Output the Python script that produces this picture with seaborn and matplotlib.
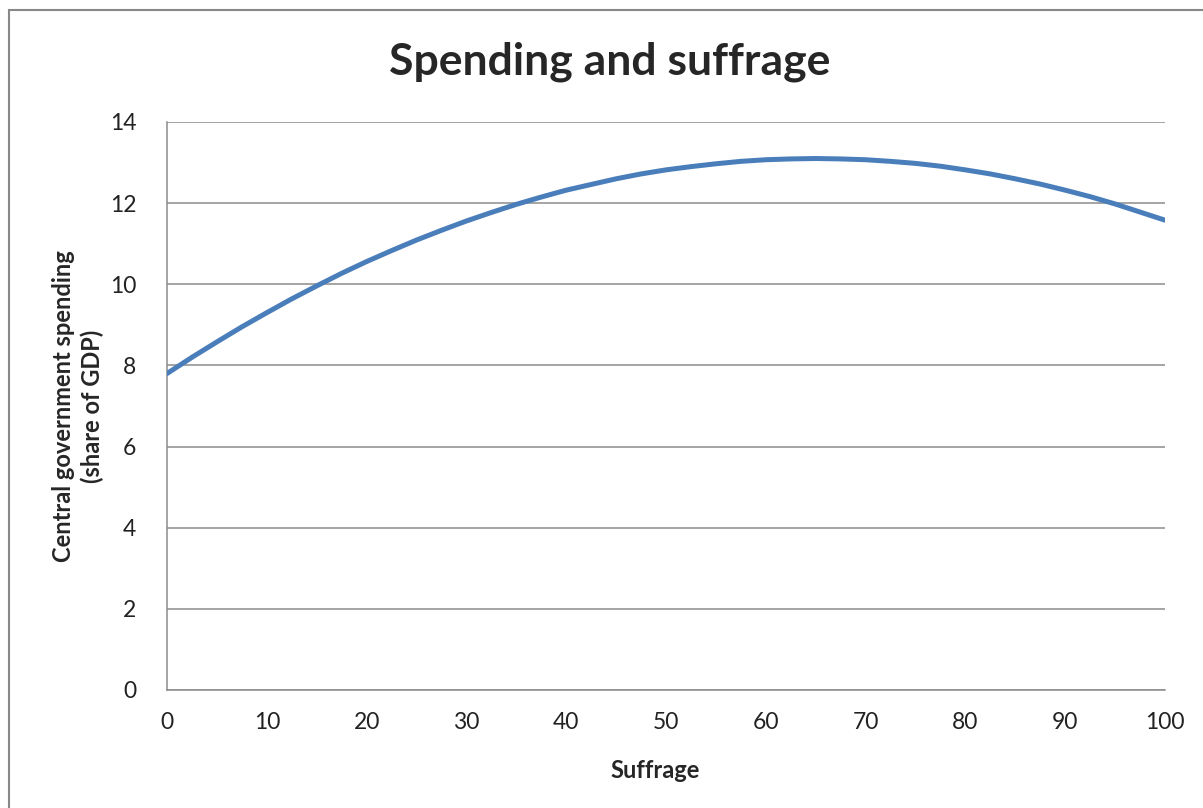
import numpy as np
import pandas as pd
import matplotlib
matplotlib.use('Agg')
import matplotlib.pyplot as plt
import matplotlib.patches as mpatches
import seaborn as sns

# Curve values
suffrage = [0, 2.5, 5, 7.5, 10, 12.5, 15, 17.5, 20, 22.5, 25, 27.5, 30, 32.5, 35, 37.5, 40, 42.5, 45,
            47.5, 50, 52.5, 55, 57.5, 60, 62.5, 65, 67.5, 70, 72.5, 75, 77.5, 80, 82.5, 85, 87.5, 90,
            92.5, 95, 97.5, 100]
spending = [7.80, 8.20, 8.58, 8.95, 9.30, 9.64, 9.96, 10.27, 10.56, 10.83, 11.09, 11.33, 11.56, 11.77,
            11.97, 12.15, 12.32, 12.46, 12.60, 12.72, 12.82, 12.90, 12.97, 13.03, 13.07, 13.09, 13.10,
            13.09, 13.07, 13.03, 12.98, 12.91, 12.82, 12.72, 12.60, 12.47, 12.32, 12.16, 11.98,
            11.78, 11.58]
y_ticks = [0, 2, 4, 6, 8, 10, 12, 14]
x_ticks = [0, 10, 20, 30, 40, 50, 60, 70, 80, 90, 100]

df = pd.DataFrame({'suffrage': suffrage, 'spending': spending})

sns.set_style('white')
plt.rcParams['font.family'] = ['Lato', 'DejaVu Sans']

W, H = 1203, 808
fig = plt.figure(figsize=(W / 100, H / 100), dpi=100, facecolor='w')
ax = fig.add_axes([167 / W, 1 - 690 / H, (1165 - 167) / W, (690 - 122) / H])

# Outer chart frame (right and bottom edges fall outside the picture)
fig.patches.append(mpatches.Rectangle((9 / W, -0.1), 1.2, 1 - 10 / H + 0.1, transform=fig.transFigure,
                                      fill=False, edgecolor='#888888', linewidth=1.5))

for y in y_ticks:
    ax.axhline(y, color='#8c8c8c', linewidth=1.1, zorder=1)

sns.lineplot(ax=ax, data=df, x='suffrage', y='spending', color='#4a7ebb', linewidth=3.6,
             solid_capstyle='round', solid_joinstyle='round', zorder=3)

ax.set_xlim(0, 100)
ax.set_ylim(0, 14)
ax.set_xticks(x_ticks)
ax.set_yticks(y_ticks)
ax.tick_params(length=0, labelsize=16.5, colors='#222222')
ax.tick_params(axis='x', pad=16)
ax.tick_params(axis='y', pad=22)
for side in ['top', 'right']:
    ax.spines[side].set_visible(False)
for side in ['left', 'bottom']:
    ax.spines[side].set_color('#8c8c8c')
    ax.spines[side].set_linewidth(1.1)

ax.set_xlabel('')
ax.set_ylabel('')
fig.text(655 / W, 1 - 770 / H, 'Suffrage', ha='center', va='center', fontsize=17, fontweight='bold')
fig.text(78 / W, 1 - 406 / H, 'Central government spending\n(share of GDP)', ha='center', va='center',
         rotation=90, multialignment='center', linespacing=1.25, fontsize=17, fontweight='bold')
fig.text(610 / W, 1 - 62 / H, 'Spending and suffrage', ha='center', va='center',
         fontsize=32, fontweight='bold')

plt.savefig('out.png', dpi=100, facecolor='w')
